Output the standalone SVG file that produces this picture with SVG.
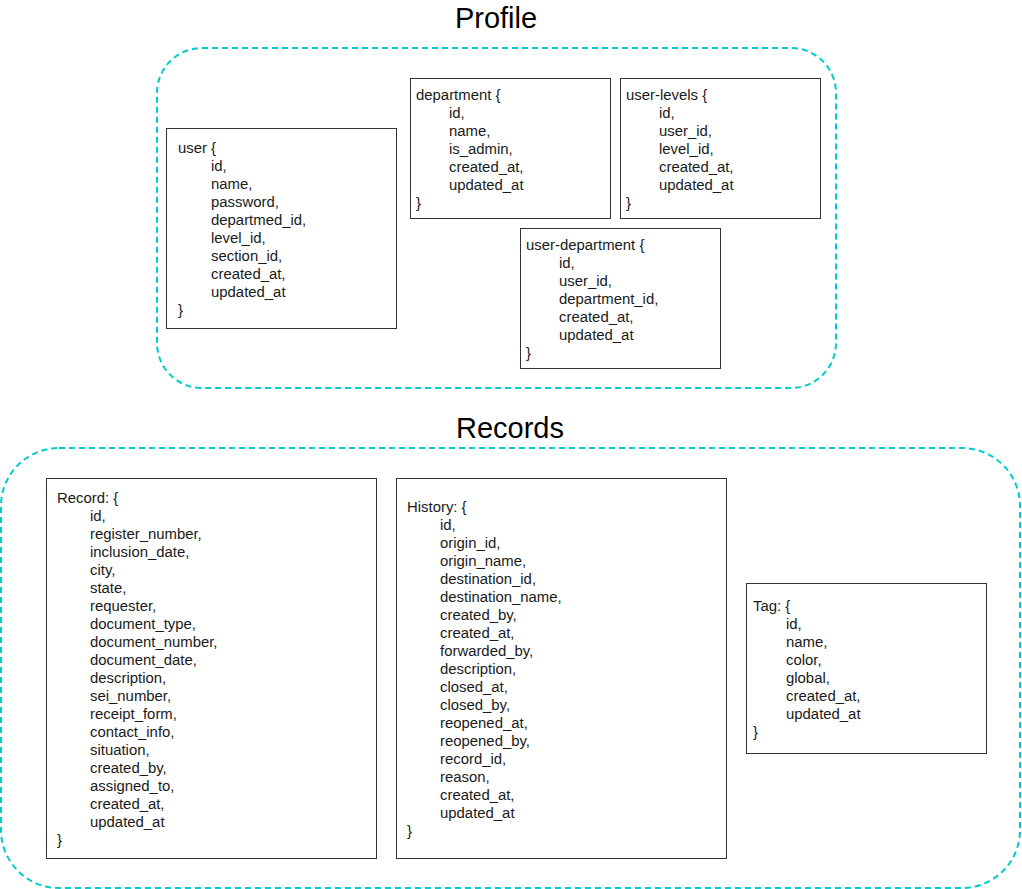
<svg xmlns="http://www.w3.org/2000/svg" width="1022" height="889" viewBox="0 0 1022 889">
<style>
.bg{fill:#ffffff}
.group{fill:none;stroke:#00CCCC;stroke-width:2;stroke-dasharray:6 4}
.title{font-family:"Liberation Sans",Arial,sans-serif;font-size:29px;fill:#000000;text-anchor:middle}
.box{fill:#ffffff;stroke:#333333;stroke-width:1}
.t{font-family:"Liberation Sans",Arial,sans-serif;font-size:14.9px;fill:#1a1a1a}
</style>
<rect class="bg" x="0" y="0" width="1022" height="889"/>
<g id="profile-group">
<rect class="group" x="157" y="48" width="679" height="340" rx="45" ry="45"/>
<text class="title" x="496" y="28">Profile</text>
</g>
<g id="records-group">
<rect class="group" x="1" y="448" width="1019" height="440" rx="58" ry="58"/>
<text class="title" x="510" y="438">Records</text>
</g>
<g id="user">
<rect class="box" x="166.5" y="128.5" width="230" height="200"/>
<text class="t" x="178" y="153">user {</text>
<text class="t" x="211" y="171">id,</text>
<text class="t" x="211" y="189">name,</text>
<text class="t" x="211" y="207">password,</text>
<text class="t" x="211" y="225">departmed_id,</text>
<text class="t" x="211" y="243">level_id,</text>
<text class="t" x="211" y="261">section_id,</text>
<text class="t" x="211" y="279">created_at,</text>
<text class="t" x="211" y="297">updated_at</text>
<text class="t" x="178" y="315">}</text>
</g>
<g id="department">
<rect class="box" x="410.5" y="78.5" width="200" height="140"/>
<text class="t" x="416" y="100">department {</text>
<text class="t" x="449" y="118">id,</text>
<text class="t" x="449" y="136">name,</text>
<text class="t" x="449" y="154">is_admin,</text>
<text class="t" x="449" y="172">created_at,</text>
<text class="t" x="449" y="190">updated_at</text>
<text class="t" x="416" y="208">}</text>
</g>
<g id="user-levels">
<rect class="box" x="620.5" y="78.5" width="200" height="140"/>
<text class="t" x="626" y="100">user-levels {</text>
<text class="t" x="659" y="118">id,</text>
<text class="t" x="659" y="136">user_id,</text>
<text class="t" x="659" y="154">level_id,</text>
<text class="t" x="659" y="172">created_at,</text>
<text class="t" x="659" y="190">updated_at</text>
<text class="t" x="626" y="208">}</text>
</g>
<g id="user-department">
<rect class="box" x="520.5" y="228.5" width="200" height="140"/>
<text class="t" x="526" y="250">user-department {</text>
<text class="t" x="559" y="268">id,</text>
<text class="t" x="559" y="286">user_id,</text>
<text class="t" x="559" y="304">department_id,</text>
<text class="t" x="559" y="322">created_at,</text>
<text class="t" x="559" y="340">updated_at</text>
<text class="t" x="526" y="358">}</text>
</g>
<g id="record">
<rect class="box" x="46.5" y="478.5" width="330" height="380"/>
<text class="t" x="57" y="503">Record: {</text>
<text class="t" x="90" y="521">id,</text>
<text class="t" x="90" y="539">register_number,</text>
<text class="t" x="90" y="557">inclusion_date,</text>
<text class="t" x="90" y="575">city,</text>
<text class="t" x="90" y="593">state,</text>
<text class="t" x="90" y="611">requester,</text>
<text class="t" x="90" y="629">document_type,</text>
<text class="t" x="90" y="647">document_number,</text>
<text class="t" x="90" y="665">document_date,</text>
<text class="t" x="90" y="683">description,</text>
<text class="t" x="90" y="701">sei_number,</text>
<text class="t" x="90" y="719">receipt_form,</text>
<text class="t" x="90" y="737">contact_info,</text>
<text class="t" x="90" y="755">situation,</text>
<text class="t" x="90" y="773">created_by,</text>
<text class="t" x="90" y="791">assigned_to,</text>
<text class="t" x="90" y="809">created_at,</text>
<text class="t" x="90" y="827">updated_at</text>
<text class="t" x="57" y="845">}</text>
</g>
<g id="history">
<rect class="box" x="396.5" y="478.5" width="330" height="380"/>
<text class="t" x="407" y="512">History: {</text>
<text class="t" x="440" y="530">id,</text>
<text class="t" x="440" y="548">origin_id,</text>
<text class="t" x="440" y="566">origin_name,</text>
<text class="t" x="440" y="584">destination_id,</text>
<text class="t" x="440" y="602">destination_name,</text>
<text class="t" x="440" y="620">created_by,</text>
<text class="t" x="440" y="638">created_at,</text>
<text class="t" x="440" y="656">forwarded_by,</text>
<text class="t" x="440" y="674">description,</text>
<text class="t" x="440" y="692">closed_at,</text>
<text class="t" x="440" y="710">closed_by,</text>
<text class="t" x="440" y="728">reopened_at,</text>
<text class="t" x="440" y="746">reopened_by,</text>
<text class="t" x="440" y="764">record_id,</text>
<text class="t" x="440" y="782">reason,</text>
<text class="t" x="440" y="800">created_at,</text>
<text class="t" x="440" y="818">updated_at</text>
<text class="t" x="407" y="836">}</text>
</g>
<g id="tag">
<rect class="box" x="746.5" y="583.5" width="240" height="170"/>
<text class="t" x="753" y="611">Tag: {</text>
<text class="t" x="786" y="629">id,</text>
<text class="t" x="786" y="647">name,</text>
<text class="t" x="786" y="665">color,</text>
<text class="t" x="786" y="683">global,</text>
<text class="t" x="786" y="701">created_at,</text>
<text class="t" x="786" y="719">updated_at</text>
<text class="t" x="753" y="737">}</text>
</g>
<g id="connectors"></g>
</svg>
